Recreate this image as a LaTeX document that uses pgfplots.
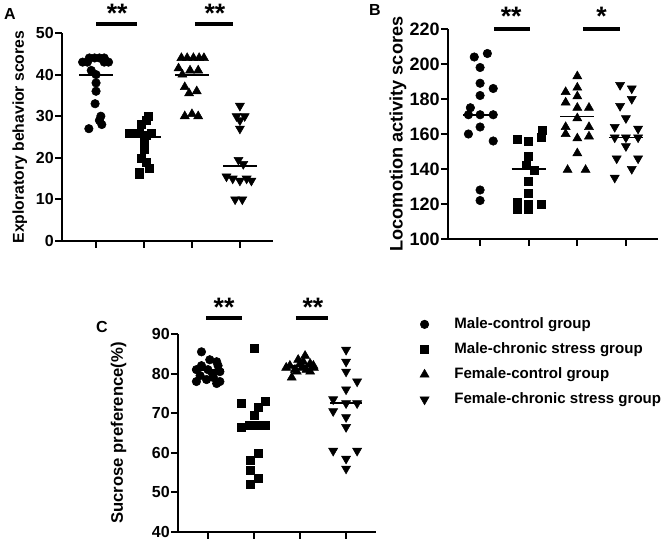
\documentclass[border=0pt]{standalone}
\usepackage{pgfplots}
\pgfplotsset{compat=1.18}
\usepackage{fontspec}
\setmainfont{Liberation Sans}

\pgfplotsset{
 prism/.style={
  scale only axis, axis lines=left, axis line style={-, line width=1.6pt},
  tick align=outside, major tick length=5pt,
  tick style={black, line width=1.5pt},
  xtick={0,1,2,3}, xticklabels={},
  clip=false,
  /pgf/number format/assume math mode=true,
  ticklabel style={font=\bfseries\fontsize{12}{14}\selectfont},
  yticklabel style={inner sep=1pt},
  label style={font=\bfseries\fontsize{11.8}{13}\selectfont},
 },
 mc/.style={only marks, mark=*, mark size=3.2pt, black},
 ms/.style={only marks, mark=square*, mark size=3pt, black},
 fc/.style={only marks, mark=triangle*, mark size=3.9pt, black},
 fs/.style={only marks, mark=triangle*, mark size=3.9pt, black, mark options={rotate=180}},
 meanl/.style={black, line width=1.4pt, no marks, forget plot},
 sig/.style={black, line width=2.6pt, no marks, forget plot},
}
\newcommand{\stars}[1]{{\bfseries\fontsize{20}{20}\selectfont #1}}

\begin{document}
\begin{tikzpicture}
\path[use as bounding box] (0,0) rectangle (499.5pt,-407.25pt);

% ---------------- Panel A ----------------
\begin{axis}[prism, at={(46.5pt,-180.75pt)}, anchor=south west,
  width=158.25pt, height=156pt,
  xmin=-0.71, xmax=3.69, ymin=0, ymax=50, ytick={0,10,...,50},
  ylabel={Exploratory behavior scores},
  ylabel style={at={(rel axis cs:-0.2,0.5)}, anchor=center}]
\addplot[mc] coordinates {(-0.14,44)(-0.03,44)(0.07,44)(0.17,44)(-0.28,43)(-0.18,43)(0.17,43)(0.26,43)
 (-0.1,41)(0,40)(0,38)(0,36)(-0.02,33)(0.1,30)(0.07,29)(0.12,28)(-0.15,27)};
\addplot[ms] coordinates {(1.08,30)(1.04,29)(0.94,28)(0.69,26)(0.8,26)(0.9,26)(1.15,26)(1.04,25.5)
 (1.01,24)(1.01,22)(0.94,20)(1.04,19)(1.11,17.5)(0.9,16.5)(0.9,16)};
\addplot[fc] coordinates {(1.78,44)(1.9,44)(2.03,44)(2.15,44)(2.25,44)(1.72,41.5)(1.96,41)(2.13,41)
 (1.8,40)(1.85,37)(2.1,36)(1.94,35.5)(2,30.5)(1.85,30)(2.13,30)};
\addplot[fs] coordinates {(3,32.5)(2.93,30)(3.1,30)(3,29)(3,27)(2.97,19.5)(3.07,18.5)(2.72,15.5)
 (2.85,15)(3,14.5)(3.14,15)(3.24,14.5)(2.9,10)(3.05,10)};
\addplot[meanl] coordinates {(-0.35,40)(0.35,40)};
\addplot[meanl] coordinates {(0.65,25)(1.35,25)};
\addplot[meanl] coordinates {(1.65,40)(2.35,40)};
\addplot[meanl] coordinates {(2.65,18)(3.35,18)};
\addplot[sig] coordinates {(0.0,52.2)(0.85,52.2)};
\addplot[sig] coordinates {(2.06,52.2)(2.85,52.2)};
\node at (axis cs:0.44,54.8) {\stars{**}};
\node at (axis cs:2.48,54.8) {\stars{**}};
\end{axis}

% ---------------- Panel B ----------------
\begin{axis}[prism, at={(336pt,-179.25pt)}, anchor=south west,
  width=157.5pt, height=157.5pt,
  xmin=-0.66, xmax=3.66, ymin=100, ymax=220, ytick={100,120,...,220},
  ticklabel style={font=\bfseries\fontsize{13.5}{15}\selectfont},
  label style={font=\bfseries\fontsize{13.6}{15}\selectfont},
  ylabel={Locomotion activity scores},
  ylabel style={at={(rel axis cs:-0.238,0.5)}, anchor=center}]
\addplot[mc] coordinates {(-0.12,204)(0.15,206)(0,198)(0,189)(0.27,186)(0,182)(-0.2,175)(-0.24,171)
 (0,171)(0.27,171)(0,164)(-0.24,160)(0.27,156)(0,128)(0,122)};
\addplot[ms] coordinates {(1.28,162)(0.77,157)(1,156)(1.25,158)(1,147)(0.94,142)(1.11,139.5)(1,133)
 (1,126)(0.77,121)(1.25,120)(0.77,117)(1,117)(0.77,119)(1,120)};
\addplot[fc] coordinates {(2,193)(1.76,184)(2,186.5)(2,181.5)(1.76,178)(2.24,175)(2,175)(2,169)
 (1.76,164)(2.24,164)(2.24,158.6)(1.76,160)(2,157.5)(2,149)(1.8,139.5)(2.17,139.5)};
\addplot[fs] coordinates {(2.88,188)(3.12,186)(3.12,180)(2.88,176)(3,169)(2.77,164)(3.25,163)(2.77,158)
 (3,158)(3.25,158)(3,153)(2.81,146)(3.25,146)(3.12,140)(2.77,135)};
\addplot[meanl] coordinates {(-0.35,171)(0.35,171)};
\addplot[meanl] coordinates {(0.65,140)(1.35,140)};
\addplot[meanl] coordinates {(1.65,170)(2.35,170)};
\addplot[meanl] coordinates {(2.65,158)(3.35,158)};
\addplot[sig] coordinates {(0.29,220)(1.03,220)};
\addplot[sig] coordinates {(2.12,220)(2.87,220)};
\node at (axis cs:0.64,227) {\stars{**}};
\node at (axis cs:2.5,227) {\stars{*}};
\end{axis}

% ---------------- Panel C ----------------
\begin{axis}[prism, at={(133.5pt,-399pt)}, anchor=south west,
  width=148.5pt, height=148.5pt,
  xmin=-0.65, xmax=3.65, ymin=40, ymax=90, ytick={40,50,...,90},
  label style={font=\bfseries\fontsize{12.5}{14}\selectfont},
  ylabel={Sucrose preference(\%)},
  ylabel style={at={(rel axis cs:-0.30,0.5)}, anchor=center},
  legend cell align=left,
  legend image code/.code={\path[draw=none] (0cm,0cm) -- (0.9cm,0cm); \draw[#1] plot coordinates {(0.15cm,0cm)};},
  legend style={draw=none, fill=none, at={(rel axis cs:1.195,1.11)}, anchor=north west,
    font=\bfseries\fontsize{11.3}{13}\selectfont, row sep=5pt,
    nodes={inner sep=1pt, text height=9pt, text depth=2.8pt}}]
\addplot[mc] coordinates {(-0.14,85.5)(0.04,83.5)(0.19,83)(-0.14,82)(0.22,82)(-0.25,81)(0,81)(0.26,80.5)
 (-0.17,79.5)(0.12,79)(0.1,80)(-0.25,78)(-0.03,78.5)(0.19,77.5)(0.26,78)};
\addlegendentry{Male-control group}
\addplot[ms] coordinates {(1,86.5)(0.73,72.5)(1.24,73)(1.1,71.5)(1,69.5)(0.73,66.5)(0.9,67)(1.1,67)
 (1.24,67)(1.09,60)(0.91,58)(0.91,55.5)(1.09,53.5)(0.91,52)};
\addlegendentry{Male-chronic stress group}
\addplot[fc] coordinates {(2.11,84.5)(1.96,83.5)(2.22,82.5)(1.78,82)(2.29,82)(2.04,81.5)(1.89,81)(2.14,81)
 (2,82.5)(1.82,79)(2.22,80.5)(1.93,80.5)(2.07,83)(1.7,81.5)(2.3,81.5)};
\addlegendentry{Female-control group}
\addplot[fs] coordinates {(3,86)(3,83)(3,80.5)(3.24,78)(3,76)(2.72,73.5)(3,72.5)(3.24,72.5)
 (2.72,70.5)(3,69)(3,66.5)(2.72,60.5)(3.24,60.5)(3,58.5)(3,56)};
\addlegendentry{Female-chronic stress group}
\addplot[meanl] coordinates {(-0.35,81)(0.35,81)};
\addplot[meanl] coordinates {(0.65,67)(1.35,67)};
\addplot[meanl] coordinates {(1.65,82)(2.35,82)};
\addplot[meanl] coordinates {(2.65,72.5)(3.35,72.5)};
\addplot[sig] coordinates {(-0.04,94)(0.74,94)};
\addplot[sig] coordinates {(1.91,94)(2.61,94)};
\node at (axis cs:0.35,96.8) {\stars{**}};
\node at (axis cs:2.28,96.8) {\stars{**}};
\end{axis}

% panel letters
\node[font=\bfseries\fontsize{12}{14}\selectfont] at (7.5pt,-10.5pt) {A};
\node[font=\bfseries\fontsize{12}{14}\selectfont] at (281.25pt,-7.5pt) {B};
\node[font=\bfseries\fontsize{12}{14}\selectfont] at (76.5pt,-245.25pt) {C};
\end{tikzpicture}
\end{document}
